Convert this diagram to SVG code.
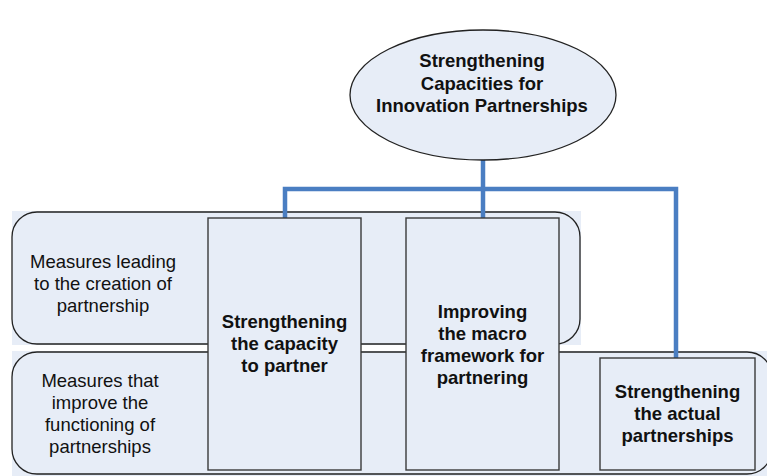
<svg xmlns="http://www.w3.org/2000/svg" width="767" height="476" viewBox="0 0 767 476">
<style>
.bg{fill:#e7edf7;stroke:none}
.rr{fill:none;stroke:#222;stroke-width:1.3}
.box{fill:#e7edf7;stroke:#3a3a3a;stroke-width:1.4}
.t{font-family:"Liberation Sans",Arial,sans-serif;font-size:18.5px;fill:#111;text-anchor:middle}
.b{font-weight:bold}
.c{fill:none;stroke:#4a7ec2;stroke-width:4.5;stroke-linejoin:miter}
</style>
<rect width="767" height="476" fill="#fff"/>
<g id="region-creation">
<rect class="bg" x="12" y="211" width="569" height="134"/>
<path class="rr" d="M37,212 H555 A25,25 0 0 1 580,237 V319 A25,25 0 0 1 555,344 H37 A25,25 0 0 1 12,319 V237 A25,25 0 0 1 37,212 Z"/>
<text class="t"><tspan x="103" y="268">Measures leading</tspan><tspan x="103" y="290">to the creation of</tspan><tspan x="103" y="312">partnership</tspan></text>
</g>
<g id="region-functioning">
<rect class="bg" x="12" y="351" width="755" height="125"/>
<path class="rr" d="M37,352 H747 A25,25 0 0 1 772,377 V449 A25,25 0 0 1 747,474 H37 A25,25 0 0 1 12,449 V377 A25,25 0 0 1 37,352 Z"/>
<text class="t"><tspan x="100" y="387">Measures that</tspan><tspan x="100" y="409">improve the</tspan><tspan x="100" y="431">functioning of</tspan><tspan x="100" y="453">partnerships</tspan></text>
</g>
<g id="connectors">
<path class="c" d="M483,160 V218"/>
<path class="c" d="M285,219 V189 H676 V358"/>
</g>
<g id="root">
<ellipse cx="483" cy="95" rx="133" ry="65" fill="#e7edf7" stroke="#222" stroke-width="1.3"/>
<text class="t b"><tspan x="482" y="67">Strengthening</tspan><tspan x="482" y="89.5">Capacities for</tspan><tspan x="482" y="112">Innovation Partnerships</tspan></text>
</g>
<g id="capacity">
<rect class="box" x="208" y="218" width="153" height="252"/>
<text class="t b"><tspan x="284.5" y="328">Strengthening</tspan><tspan x="284.5" y="350">the capacity</tspan><tspan x="284.5" y="372">to partner</tspan></text>
</g>
<g id="macro">
<rect class="box" x="406" y="218" width="153" height="252"/>
<text class="t b"><tspan x="482.5" y="318">Improving</tspan><tspan x="482.5" y="340">the macro</tspan><tspan x="482.5" y="362">framework for</tspan><tspan x="482.5" y="384">partnering</tspan></text>
</g>
<g id="actual">
<rect class="box" x="600" y="358" width="155" height="112"/>
<text class="t b"><tspan x="677.5" y="398">Strengthening</tspan><tspan x="677.5" y="420">the actual</tspan><tspan x="677.5" y="442">partnerships</tspan></text>
</g>
</svg>
